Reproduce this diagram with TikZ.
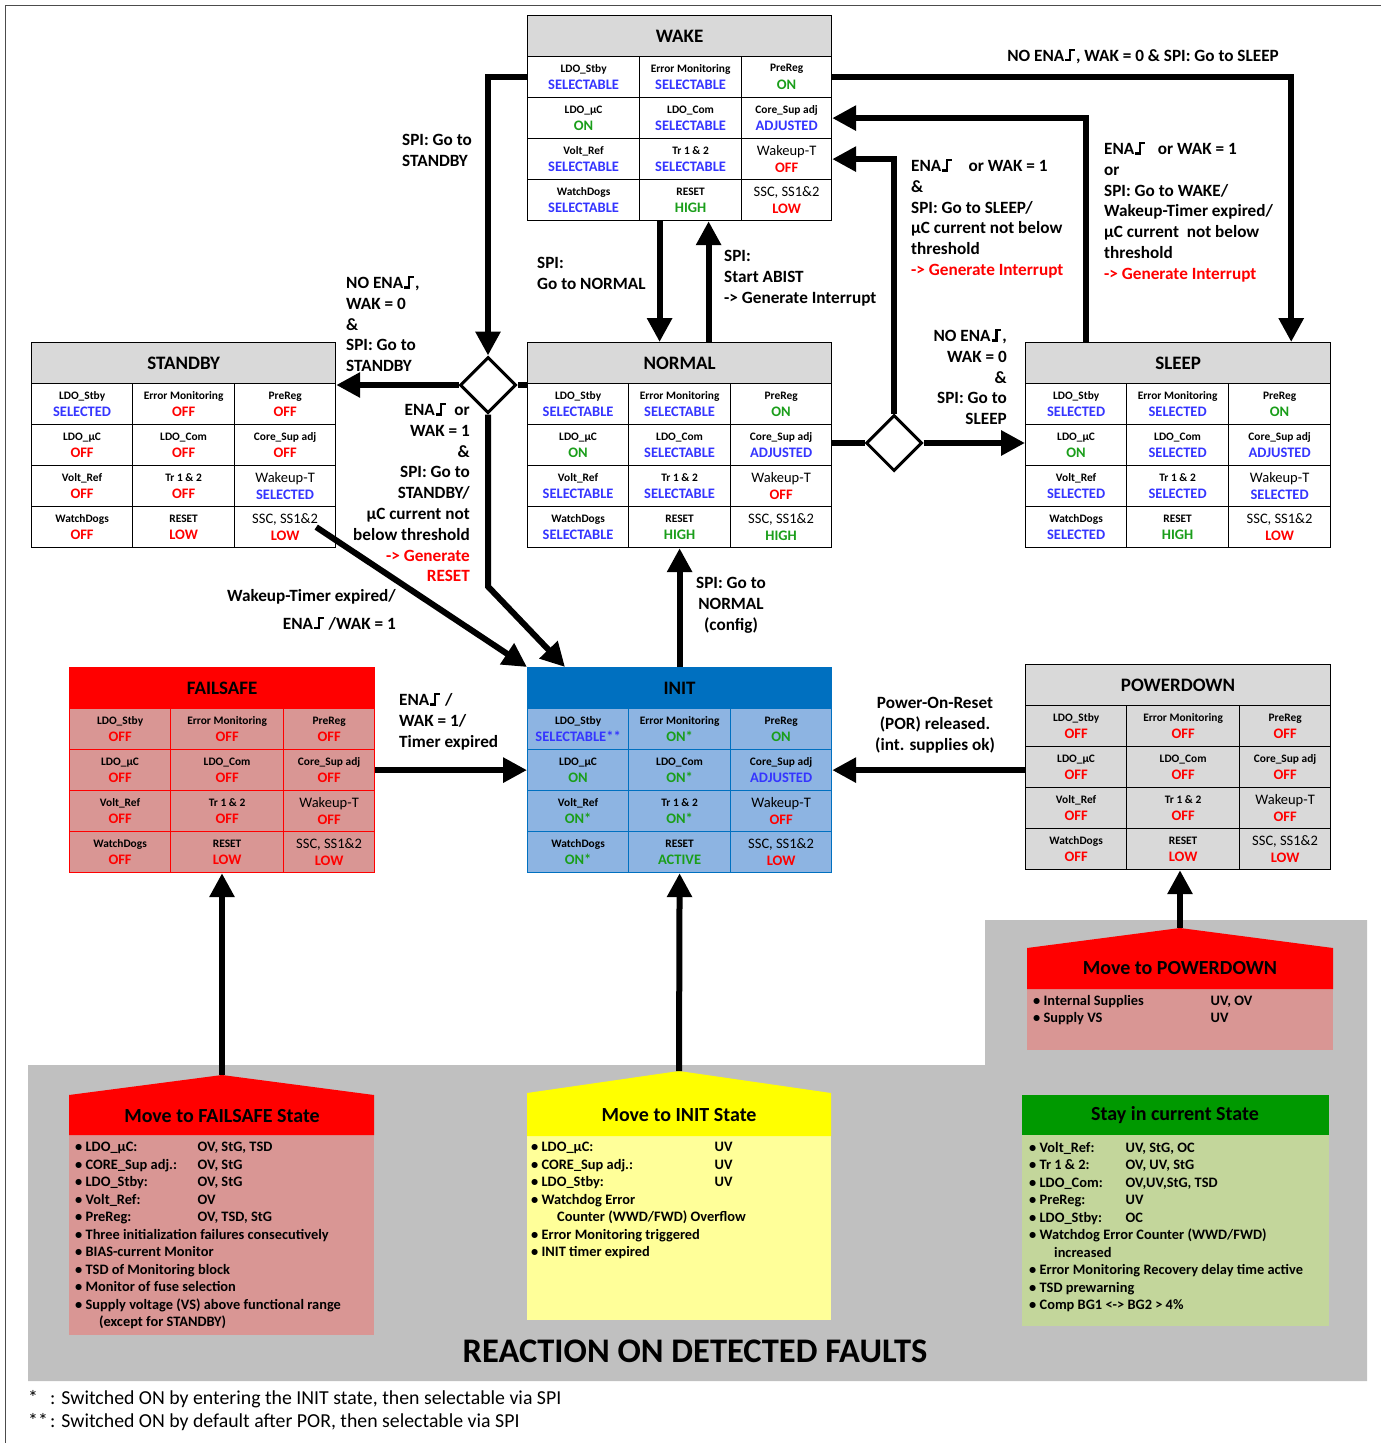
\documentclass[tikz,border=0pt]{standalone}
\usepackage{fontspec}
\setmainfont{Carlito}
\usetikzlibrary{arrows.meta,shapes.geometric}

\definecolor{hdrgray}{HTML}{D9D9D9}
\definecolor{bggray}{HTML}{C0C0C0}
\definecolor{selblue}{HTML}{3535FF}
\definecolor{ongreen}{HTML}{1A9E1A}
\definecolor{offred}{HTML}{FF0000}
\definecolor{fspink}{HTML}{D99694}
\definecolor{initblue}{HTML}{0070C0}
\definecolor{initlight}{HTML}{8DB4E2}
\definecolor{ylw}{HTML}{FFFF00}
\definecolor{ylwlight}{HTML}{FFFF99}
\definecolor{stgreen}{HTML}{009900}
\definecolor{stlight}{HTML}{C3D69B}

\newcommand{\hdrfont}{\fontsize{19}{22}\selectfont\bfseries}
\newcommand{\labfont}{\fontsize{11.4}{12}\selectfont\bfseries}
\newcommand{\valfont}{\fontsize{14.5}{17.5}\selectfont\bfseries}
\newcommand{\trfont}{\fontsize{17.2}{20.8}\selectfont\bfseries}
\newcommand{\listfont}{\fontsize{14.4}{17.5}\selectfont\bfseries}
% rising edge
\newcommand{\redge}{\kern1pt\rule{0.22em}{0.13em}\rule{0.13em}{0.72em}\rule[0.59em]{0.22em}{0.13em}\kern1pt}
\newcommand{\wkt}{{\fontsize{14.5}{15}\selectfont\mdseries Wakeup-T}}
\newcommand{\sscl}{{\fontsize{14.5}{15}\selectfont\mdseries SSC, SS1\&2}}
\newcommand{\flab}[2]{\makebox[#1][l]{#2}}

% name, x0, x1, x2, x3, y top, title, look, rows
\newcommand{\statetable}[9]{%
  \node[#8 hdr, minimum width={(#5-#2)*1pt}] (#1) at (#2,#6) {#7};
  \foreach \rowitems [count=\i] in {#9} {
    \foreach \cellab/\cellval/\cellcol [count=\j] in \rowitems {
      \pgfmathsetmacro{\xx}{{#2,#3,#4}[\j-1]}
      \pgfmathsetmacro{\ww}{{#3-#2,#4-#3,#5-#4}[\j-1]}
      \node[#8 cell, minimum width=\ww pt] (#1-\i\j) at (\xx,#6+41*\i)
        {{\labfont\cellab}\\\textcolor{\cellcol}{\cellval}};
    }
  }
}

\begin{document}
\begin{tikzpicture}[x=1pt, y=-1pt,
  hdr/.style={draw, line width=1.2pt, anchor=north west, minimum height=41pt, inner sep=0pt, font=\hdrfont},
  cell/.style={draw, line width=1.2pt, anchor=north west, minimum height=41pt, inner sep=0pt, align=center, font=\valfont},
  std hdr/.style={hdr, fill=hdrgray},
  std cell/.style={cell, fill=white},
  fsafe hdr/.style={hdr, fill=offred, draw=offred},
  fsafe cell/.style={cell, fill=fspink, draw=offred},
  ini hdr/.style={hdr, fill=initblue, draw=initblue},
  ini cell/.style={cell, fill=initlight, draw=initblue},
  pdn hdr/.style={hdr, fill=hdrgray},
  pdn cell/.style={cell, fill=hdrgray},
  dmd/.style={draw, diamond, fill=white, line width=3pt, minimum width=56pt, minimum height=56pt, inner sep=0pt},
  trans/.style={line width=6pt, -{Triangle[length=24pt,width=24pt]}},
  link/.style={line width=6pt},
  tlab/.style={font=\trfont, inner sep=0pt, align=left},
  fhdr/.style={font=\fontsize{20}{22}\selectfont\bfseries, inner sep=0pt},
  flist/.style={font=\listfont, inner sep=0pt, align=left, anchor=north west},
  foot/.style={font=\fontsize{19.8}{22}\selectfont, inner sep=0pt, anchor=west}]

\useasboundingbox (0,0) rectangle (1381,1443);
\draw[line width=0.8pt, black!70] (5,1443) -- (5,5) -- (1381,5);

% faults background
\fill[bggray] (28,1065) -- (985,1065) -- (985,920) -- (1367,920) -- (1367,1381) -- (28,1381) -- cycle;
\node[font=\fontsize{34.5}{35}\selectfont\bfseries, inner sep=0pt] (react) at (695,1351) {REACTION ON DETECTED FAULTS};

% failsafe faults
\coordinate (fspeak) at (222,1075);
\fill[fspink] (69,1135) rectangle (374,1335);
\fill[offred] (69,1135) -- (69,1095) -- (fspeak) -- (374,1095) -- (374,1135) -- cycle;
\node[fhdr] (fshead) at (222,1116) {Move to FAILSAFE State};
\node[flist] (fslist) at (75,1142) {%
• \flab{112pt}{LDO\_µC:}OV, StG, TSD\\
• \flab{112pt}{CORE\_Sup adj.:}OV, StG\\
• \flab{112pt}{LDO\_Stby:}OV, StG\\
• \flab{112pt}{Volt\_Ref:}OV\\
• \flab{112pt}{PreReg:}OV, TSD, StG\\
• Three initialization failures consecutively\\
• BIAS-current Monitor\\
• TSD of Monitoring block\\
• Monitor of fuse selection\\
• Supply voltage (VS) above functional range\\
\hspace{24pt}(except for STANDBY)};

% init faults
\coordinate (inpeak) at (679,1071);
\fill[ylwlight] (527,1136) rectangle (831,1320);
\fill[ylw] (527,1136) -- (527,1093) -- (inpeak) -- (831,1093) -- (831,1136) -- cycle;
\node[fhdr] (inhead) at (679,1115) {Move to INIT State};
\node[flist] (inlist) at (531,1142) {%
• \flab{173pt}{LDO\_µC:}UV\\
• \flab{173pt}{CORE\_Sup adj.:}UV\\
• \flab{173pt}{LDO\_Stby:}UV\\
• Watchdog Error\\
\hspace{26pt}Counter (WWD/FWD) Overflow\\
• Error Monitoring triggered\\
• INIT timer expired};

% powerdown faults
\coordinate (pdpeak) at (1180,928);
\fill[fspink] (1027,989) rectangle (1333,1050);
\fill[offred] (1027,989) -- (1027,948) -- (pdpeak) -- (1333,948) -- (1333,989) -- cycle;
\node[fhdr] (pdhead) at (1180,968) {Move to POWERDOWN};
\node[flist] (pdlist) at (1033,995) {%
• \flab{167pt}{Internal Supplies}UV, OV\\
• \flab{167pt}{Supply VS}UV};

% stay faults
\fill[stlight] (1022,1135) rectangle (1329,1326);
\fill[stgreen] (1022,1095) rectangle (1329,1135);
\node[fhdr] (sthead) at (1175,1115) {Stay in current State};
\node[flist] (stlist) at (1029,1142) {%
• \flab{86pt}{Volt\_Ref:}UV, StG, OC\\
• \flab{86pt}{Tr 1 \& 2:}OV, UV, StG\\
• \flab{86pt}{LDO\_Com:}OV,UV,StG, TSD\\
• \flab{86pt}{PreReg:}UV\\
• \flab{86pt}{LDO\_Stby:}OC\\
• Watchdog Error Counter (WWD/FWD)\\
\hspace{25pt}increased\\
• Error Monitoring Recovery delay time active\\
• TSD prewarning\\
• Comp BG1 <-> BG2 > 4\%};

% states
\statetable{wake}{527}{639}{741}{831}{15}{WAKE}{std}{
  {LDO\_Stby/SELECTABLE/selblue, Error Monitoring/SELECTABLE/selblue, PreReg/ON/ongreen},
  {LDO\_µC/ON/ongreen, LDO\_Com/SELECTABLE/selblue, Core\_Sup adj/ADJUSTED/selblue},
  {Volt\_Ref/SELECTABLE/selblue, Tr 1 \& 2/SELECTABLE/selblue, \wkt/OFF/offred},
  {WatchDogs/SELECTABLE/selblue, RESET/HIGH/ongreen, \sscl/LOW/offred}}
\statetable{stby}{31}{132}{234}{335}{342}{STANDBY}{std}{
  {LDO\_Stby/SELECTED/selblue, Error Monitoring/OFF/offred, PreReg/OFF/offred},
  {LDO\_µC/OFF/offred, LDO\_Com/OFF/offred, Core\_Sup adj/OFF/offred},
  {Volt\_Ref/OFF/offred, Tr 1 \& 2/OFF/offred, \wkt/SELECTED/selblue},
  {WatchDogs/OFF/offred, RESET/LOW/offred, \sscl/LOW/offred}}
\statetable{norm}{527}{628}{730}{831}{342}{NORMAL}{std}{
  {LDO\_Stby/SELECTABLE/selblue, Error Monitoring/SELECTABLE/selblue, PreReg/ON/ongreen},
  {LDO\_µC/ON/ongreen, LDO\_Com/SELECTABLE/selblue, Core\_Sup adj/ADJUSTED/selblue},
  {Volt\_Ref/SELECTABLE/selblue, Tr 1 \& 2/SELECTABLE/selblue, \wkt/OFF/offred},
  {WatchDogs/SELECTABLE/selblue, RESET/HIGH/ongreen, \sscl/HIGH/ongreen}}
\statetable{sleep}{1025}{1126}{1228}{1330}{342}{SLEEP}{std}{
  {LDO\_Stby/SELECTED/selblue, Error Monitoring/SELECTED/selblue, PreReg/ON/ongreen},
  {LDO\_µC/ON/ongreen, LDO\_Com/SELECTED/selblue, Core\_Sup adj/ADJUSTED/selblue},
  {Volt\_Ref/SELECTED/selblue, Tr 1 \& 2/SELECTED/selblue, \wkt/SELECTED/selblue},
  {WatchDogs/SELECTED/selblue, RESET/HIGH/ongreen, \sscl/LOW/offred}}
\statetable{fs}{69}{170}{283}{374}{667}{FAILSAFE}{fsafe}{
  {LDO\_Stby/OFF/offred, Error Monitoring/OFF/offred, PreReg/OFF/offred},
  {LDO\_µC/OFF/offred, LDO\_Com/OFF/offred, Core\_Sup adj/OFF/offred},
  {Volt\_Ref/OFF/offred, Tr 1 \& 2/OFF/offred, \wkt/OFF/offred},
  {WatchDogs/OFF/offred, RESET/LOW/offred, \sscl/LOW/offred}}
\statetable{init}{527}{628}{730}{831}{667}{INIT}{ini}{
  {LDO\_Stby/SELECTABLE**/selblue, Error Monitoring/ON*/ongreen, PreReg/ON/ongreen},
  {LDO\_µC/ON/ongreen, LDO\_Com/ON*/ongreen, Core\_Sup adj/ADJUSTED/selblue},
  {Volt\_Ref/ON*/ongreen, Tr 1 \& 2/ON*/ongreen, \wkt/OFF/offred},
  {WatchDogs/ON*/ongreen, RESET/ACTIVE/ongreen, \sscl/LOW/offred}}
\statetable{pd}{1025}{1126}{1239}{1330}{664}{POWERDOWN}{pdn}{
  {LDO\_Stby/OFF/offred, Error Monitoring/OFF/offred, PreReg/OFF/offred},
  {LDO\_µC/OFF/offred, LDO\_Com/OFF/offred, Core\_Sup adj/OFF/offred},
  {Volt\_Ref/OFF/offred, Tr 1 \& 2/OFF/offred, \wkt/OFF/offred},
  {WatchDogs/OFF/offred, RESET/LOW/offred, \sscl/LOW/offred}}

% decision points
\node[dmd] (d1) at (488,385) {};
\node[dmd] (d2) at (894,443) {};

% wake <-> sleep
\draw[trans] (wake-13.east) -| ([xshift=-40pt]sleep.north east);
\draw[trans] ([xshift=61pt]sleep.north west) |- (wake-23.east);
\draw[trans] (d2.north) |- (wake-33.east);
\draw[link] (d2.west -| norm.east) -- (d2.west);
\draw[trans] (d2.east) -- (d2.east -| sleep.west);

% wake <-> normal
\draw[trans] ([xshift=-31pt]wake-42.south) -- ([xshift=-31pt]wake-42.south |- norm.north);
\draw[trans] ([xshift=18pt]wake-42.south |- norm.north) -- ([xshift=18pt]wake-42.south);

% standby
\draw[trans] (wake-11.west) -| (d1.north);
\draw[link] (d1.east -| norm.west) -- (d1.east);
\draw[trans] (d1.west) -- (d1.west -| stby.east);
\draw[trans] (d1.south) -- ++(0,172) -- ([xshift=38pt]init.north west);
\draw[trans] ([xshift=-20pt]stby-43.east) -- (init.north west);

% init
\draw[trans] (init.north) -- (norm-42.south);
\draw[trans] (fs-23.east) -- (init-21.west);
\draw[trans] (init-23.east -| pd.west) -- (init-23.east);

% faults
\draw[trans] (fspeak) -- (fspeak |- fs-42.south);
\draw[trans] (inpeak) -- (init-42.south);
\draw[trans] (pdpeak) -- (pdpeak |- pd-42.south);

% labels
\node[tlab, anchor=east] (l-tosleep) at (1279,56) {NO ENA\redge, WAK = 0 \& SPI: Go to SLEEP};
\node[tlab, anchor=north west] (l-sleepwake) at (1104,142) {ENA\redge\ \ \ or WAK = 1\\or\\SPI: Go to WAKE/\\Wakeup-Timer expired/\\µC current\ \ not below\\threshold\\\textcolor{offred}{-> Generate Interrupt}};
\node[tlab, anchor=north west] (l-dwake) at (911,159) {ENA\redge\ \ \ \ or WAK = 1\\\&\\SPI: Go to SLEEP/\\µC current not below\\threshold\\\textcolor{offred}{-> Generate Interrupt}};
\node[tlab, anchor=north west] (l-tonormal) at (537,257) {SPI:\\Go to NORMAL};
\node[tlab, anchor=north west] (l-abist) at (724,250) {SPI:\\Start ABIST\\-> Generate Interrupt};
\node[tlab, anchor=north east, align=right] (l-dsleep) at (1007,329) {NO ENA\redge ,\\WAK = 0\\\&\\SPI: Go to\\SLEEP};
\node[tlab, anchor=north west] (l-wakestby) at (402,134) {SPI: Go to\\STANDBY};
\node[tlab, anchor=north west] (l-dstby) at (346,276) {NO ENA\redge ,\\WAK = 0\\\&\\SPI: Go to\\STANDBY};
\node[tlab, anchor=north east, align=right] (l-dinit) at (470,403) {ENA\redge\ \ or\\WAK = 1\\\&\\SPI: Go to\\STANDBY/\\µC current not\\below threshold\\\textcolor{offred}{-> Generate}\\\textcolor{offred}{RESET}};
\node[tlab, anchor=north east, align=right] (l-stbyinit) at (396,589) {Wakeup-Timer expired/\\[7pt]ENA\redge\ /WAK = 1};
\node[tlab, anchor=north, align=center] (l-config) at (731,577) {SPI: Go to\\NORMAL\\(config)};
\node[tlab, anchor=north west] (l-fsinit) at (399,693) {ENA\redge\ /\\WAK = 1/\\Timer expired};
\node[tlab, anchor=north, align=center] (l-por) at (935,697) {Power-On-Reset\\(POR) released.\\(int. supplies ok)};

% footnotes
\node[foot] (fn1) at (28,1399) {\makebox[22pt][l]{*}: Switched ON by entering the INIT state, then selectable via SPI};
\node[foot] (fn2) at (28,1422) {\makebox[22pt][l]{**}: Switched ON by default after POR, then selectable via SPI};

\end{tikzpicture}
\end{document}
